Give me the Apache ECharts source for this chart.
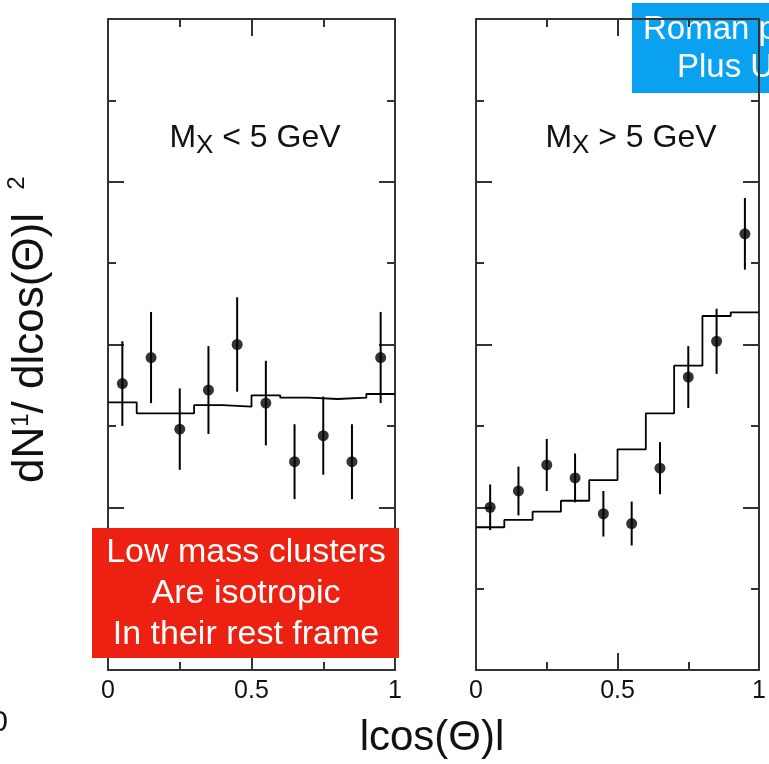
<!DOCTYPE html>
<html>
<head>
<meta charset="utf-8">
<script src="https://cdn.jsdelivr.net/npm/echarts@6/dist/echarts.min.js"></script>
<style>
  html, body { margin: 0; padding: 0; background: #fff; }
  #chart { width: 769px; height: 764px; }
</style>
</head>
<body>
<div id="chart"></div>
<script>
// bin centres and edges of |cos(theta)|
const binCenters = [0.05, 0.15, 0.25, 0.35, 0.45, 0.55, 0.65, 0.75, 0.85, 0.95]
const binEdges = [0, 0.1, 0.2, 0.3, 0.4, 0.5, 0.6, 0.7, 0.8, 0.9, 1.0]

// Mx < 5 GeV
const lowData = [1.76, 1.92, 1.48, 1.72, 2.00, 1.64, 1.28, 1.44, 1.28, 1.92]
const lowErr = [0.26, 0.28, 0.25, 0.27, 0.29, 0.26, 0.23, 0.24, 0.23, 0.28]
const lowModel = [1.645, 1.577, 1.577, 1.628, 1.618, 1.688, 1.673, 1.665, 1.673, 1.696]

// Mx > 5 GeV
const highData = [1.00, 1.10, 1.26, 1.18, 0.96, 0.90, 1.24, 1.80, 2.02, 2.68]
const highErr = [0.14, 0.15, 0.16, 0.15, 0.14, 0.135, 0.16, 0.19, 0.20, 0.22]
const highModel = [0.877, 0.922, 0.973, 1.040, 1.167, 1.356, 1.577, 1.870, 2.175, 2.198]

const xTicks = ['0', '0.5', '1']

const FONT = '"Liberation Sans", Arial, Helvetica, sans-serif'
const INK = '#111'
const chart = echarts.init(document.getElementById('chart'))

const frame = { color: '#333', width: 2 }
const axisLine = { onZero: false, lineStyle: frame }

function xAxes (gi) {
  const base = {
    gridIndex: gi,
    type: 'value',
    min: 0,
    max: 1,
    interval: 0.5,
    axisLine: axisLine,
    axisTick: { inside: true, length: 17, lineStyle: frame },
    minorTick: { show: true, splitNumber: 2, length: 8, lineStyle: frame },
    splitLine: { show: false }
  }
  return [
    Object.assign({}, base, {
      position: 'bottom',
      axisLabel: {
        fontSize: 25, color: INK, fontFamily: FONT, margin: 9,
        formatter: v => xTicks[Math.round(v * 2)]
      }
    }),
    Object.assign({}, base, { position: 'top', axisLabel: { show: false } })
  ]
}

function yAxes (gi) {
  const base = {
    gridIndex: gi,
    type: 'value',
    min: 0,
    max: 4,
    interval: 1,
    axisLine: axisLine,
    axisTick: { inside: true, length: 16, lineStyle: frame },
    minorTick: { show: true, splitNumber: 2, length: 8, lineStyle: frame },
    splitLine: { show: false },
    axisLabel: { show: false }
  }
  return [
    Object.assign({}, base, { position: 'left' }),
    Object.assign({}, base, { position: 'right' })
  ]
}

function panelSeries (gi, vals, errs, model) {
  const xi = gi * 2
  const yi = gi * 2
  const steps = binEdges.map((e, i) => [e, model[Math.min(i, model.length - 1)]])
  return [
    {
      type: 'line',
      xAxisIndex: xi,
      yAxisIndex: yi,
      step: 'end',
      showSymbol: false,
      lineStyle: { color: '#000', width: 1.8 },
      data: steps,
      z: 3
    },
    {
      type: 'custom',
      xAxisIndex: xi,
      yAxisIndex: yi,
      data: binCenters.map((c, i) => [c, vals[i] - errs[i], vals[i] + errs[i]]),
      encode: { x: 0, y: [1, 2] },
      renderItem: (params, api) => {
        const p1 = api.coord([api.value(0), api.value(1)])
        const p2 = api.coord([api.value(0), api.value(2)])
        return {
          type: 'line',
          shape: { x1: p1[0], y1: p1[1], x2: p2[0], y2: p2[1] },
          style: { stroke: '#000', lineWidth: 2 }
        }
      },
      z: 4
    },
    {
      type: 'scatter',
      xAxisIndex: xi,
      yAxisIndex: yi,
      symbolSize: 11,
      itemStyle: { color: '#000' },
      data: binCenters.map((c, i) => [c, vals[i]]),
      z: 5
    }
  ]
}

const richBig = { fontSize: 32, fontFamily: FONT, fill: INK }
const richSub = { fontSize: 26, fontFamily: FONT, fill: INK, verticalAlign: 'bottom', padding: [16, 0, 0, 0] }

const option = {
  animation: false,
  backgroundColor: '#fff',
  grid: [
    { left: 108, top: 19, width: 287, height: 651 },
    { left: 476, top: 19, width: 286, height: 651 }
  ],
  xAxis: xAxes(0).concat(xAxes(1)),
  yAxis: yAxes(0).concat(yAxes(1)),
  series: panelSeries(0, lowData, lowErr, lowModel).concat(panelSeries(1, highData, highErr, highModel)),
  graphic: [
    // blue note, sits under the frame
    {
      type: 'rect', z: -1,
      shape: { x: 632, y: 3, width: 150, height: 90 },
      style: { fill: '#0AA2F0' }
    },
    {
      type: 'text', z: -1, x: 643, y: 30,
      style: { text: 'Roman pots', font: '33px ' + FONT, fill: '#fff', align: 'left', verticalAlign: 'middle' }
    },
    {
      type: 'text', z: -1, x: 677, y: 68,
      style: { text: 'Plus UA8', font: '33px ' + FONT, fill: '#fff', align: 'left', verticalAlign: 'middle' }
    },
    // red note, on top of the frame
    {
      type: 'rect', z: 100,
      shape: { x: 92, y: 528, width: 307, height: 130 },
      style: { fill: '#EC2111' }
    },
    {
      type: 'text', z: 101, x: 246, y: 594,
      style: {
        text: 'Low mass clusters\nAre isotropic\nIn their rest frame',
        font: '34px ' + FONT, lineHeight: 41, fill: '#fff',
        align: 'center', verticalAlign: 'middle'
      }
    },
    // panel labels
    {
      type: 'text', z: 50, x: 255, y: 138,
      style: {
        text: '{m|M}{s|X}{m| < 5 GeV}', align: 'center', verticalAlign: 'middle',
        rich: { m: richBig, s: richSub }
      }
    },
    {
      type: 'text', z: 50, x: 631, y: 138,
      style: {
        text: '{m|M}{s|X}{m| > 5 GeV}', align: 'center', verticalAlign: 'middle',
        rich: { m: richBig, s: richSub }
      }
    },
    // axis titles
    {
      type: 'text', x: 432, y: 738,
      style: { text: 'lcos(Θ)l', font: '42px ' + FONT, fill: INK, align: 'center', verticalAlign: 'middle' }
    },
    {
      type: 'text', x: 31, y: 348, rotation: Math.PI / 2,
      style: {
        text: '{m|dN}{s|1}{m|/ dlcos(Θ)l}', align: 'center', verticalAlign: 'middle',
        rich: {
          m: { fontSize: 44, fontFamily: FONT, fill: INK },
          s: { fontSize: 24, fontFamily: FONT, fill: INK, verticalAlign: 'top', padding: [0, 0, 16, 0] }
        }
      }
    },
    // cropped leftovers of the original tick labels
    {
      type: 'text', x: 17, y: 183, rotation: Math.PI / 2,
      style: { text: '2', font: '24px ' + FONT, fill: INK, align: 'center', verticalAlign: 'middle' }
    },
    {
      type: 'text', x: 8, y: 723,
      style: { text: '0', font: '30px ' + FONT, fill: INK, align: 'right', verticalAlign: 'middle' }
    }
  ]
}

chart.setOption(option)
</script>
</body>
</html>
